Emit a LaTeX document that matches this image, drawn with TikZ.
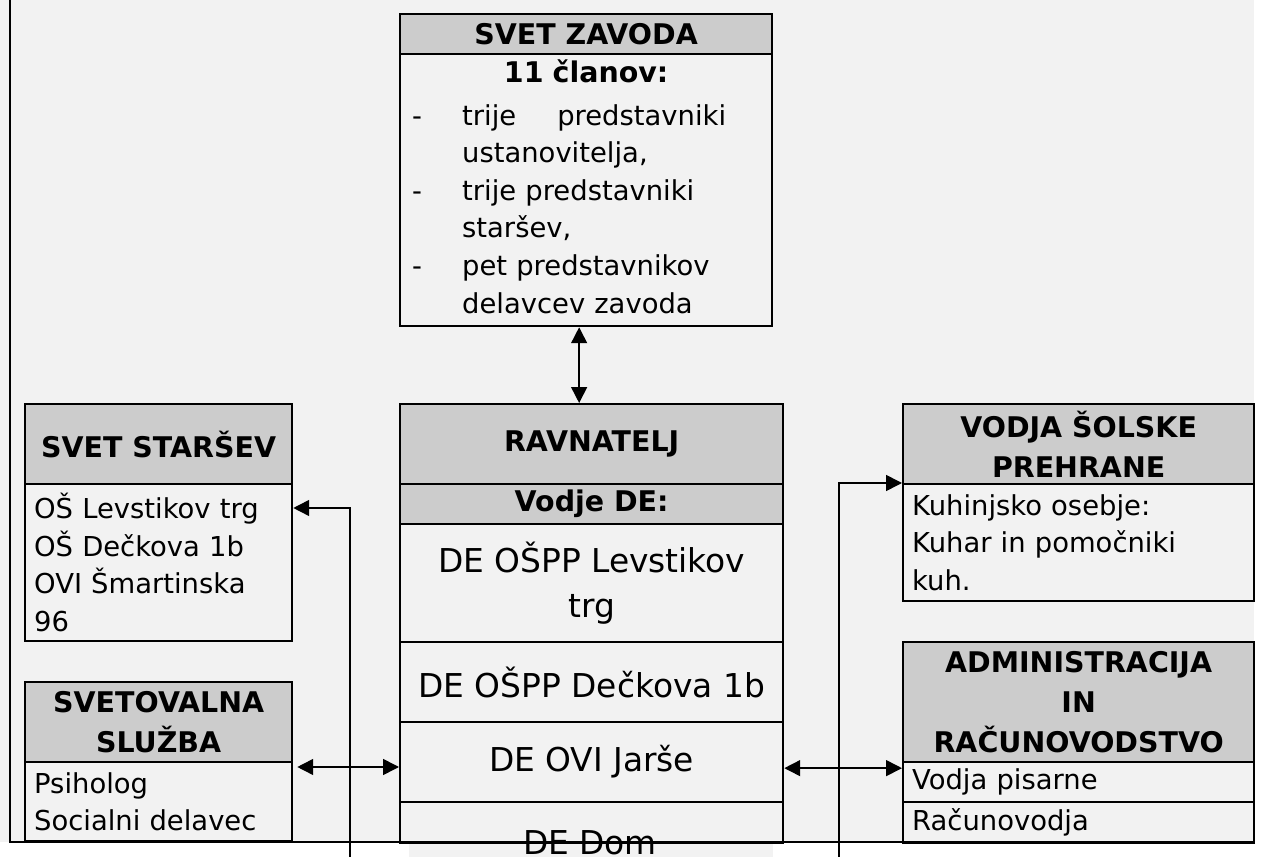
\documentclass[tikz,border=0pt]{standalone}
\usepackage{fontspec}
\setmainfont{DejaVu Sans}
\usetikzlibrary{arrows.meta,calc}

\definecolor{headgray}{RGB}{204,204,204}
\definecolor{bggray}{RGB}{242,242,242}

\newcommand{\boxheadfont}{\fontsize{16.2}{22.5}\selectfont\bfseries}
\newcommand{\boxbodyfont}{\fontsize{15.6}{21.4}\selectfont}
\newcommand{\deptfont}{\fontsize{18.7}{25.5}\selectfont}

\tikzset{
	boxcell/.style={draw, line width=1.3pt, fill=bggray, inner sep=0pt, anchor=north west},
	boxhead/.style={boxcell, fill=headgray, align=center, font=\boxheadfont},
	boxbody/.style={boxcell, align=left, inner xsep=0.18cm, font=\boxbodyfont},
	deptcell/.style={boxcell, align=center, font=\deptfont},
	sz/.style 2 args={minimum width=#1*0.02cm, minimum height=#2*0.02cm},
	connector/.style={line width=0.9pt},
}

\begin{document}
\begin{tikzpicture}[x=0.02cm, y=-0.02cm, >={Triangle[length=9pt,width=9pt]}]
	
	%Page and frame
	\useasboundingbox (0,0) rectangle (1262,857);
	\clip (0,0) rectangle (1262,857);
	\fill[bggray] (0,0) rectangle (1254,842);
	\fill[bggray] (409,842) rectangle (773,857);
	
	%Svet zavoda
	\node[boxhead, sz={372}{40}] (zavHead) at (399,13) {SVET ZAVODA};
	\node[boxcell, sz={372}{272}, font=\boxbodyfont, align=left, inner xsep=0.24cm, text width=6.96cm] (zavBody) at (399,53) {%
		\begin{tabular}{@{}p{1cm}@{}p{5.96cm}@{}}
			\multicolumn{2}{@{}c@{}}{\boxheadfont 11 članov:}\\[3pt]
			- & \makebox[5.28cm][s]{trije\hfill predstavniki}\\
			  & ustanovitelja,\\
			- & trije predstavniki\\
			  & staršev,\\
			- & pet predstavnikov\\
			  & delavcev zavoda
		\end{tabular}};
	
	%Ravnatelj and units
	\node[boxhead, sz={383}{80}] (ravHead) at (399,403) {RAVNATELJ};
	\node[boxhead, sz={383}{40}] (ravVodje) at (399,483) {Vodje DE:};
	\node[deptcell, sz={383}{118}] (deLev) at (399,523) {DE OŠPP Levstikov\\trg};
	\node[deptcell, sz={383}{80}] (deDec) at (399,641) {DE OŠPP Dečkova 1b};
	\node[deptcell, sz={383}{80}] (deJarse) at (399,721) {DE OVI Jarše};
	\node[boxcell, sz={383}{41}] (deDom) at (399,801) {};
	\node[font=\deptfont, anchor=base] (deDomText) at (590,855) {DE Dom};
	
	%Svet starsev, svetovalna sluzba
	\node[boxhead, sz={267}{80}] (starHead) at (24,403) {SVET STARŠEV};
	\node[boxbody, sz={267}{157}, text width=4.98cm] (starBody) at (24,483) {OŠ Levstikov trg\\OŠ Dečkova 1b\\OVI Šmartinska\\96};
	\node[boxhead, sz={267}{80}] (svetHead) at (24,681) {SVETOVALNA\\SLUŽBA};
	\node[boxbody, sz={267}{79}, text width=4.98cm] (svetBody) at (24,761) {Psiholog\\Socialni delavec};
	
	%Prehrana, administracija
	\node[boxhead, sz={351}{80}] (prehHead) at (902,403) {VODJA ŠOLSKE\\PREHRANE};
	\node[boxbody, sz={351}{117}, text width=6.66cm] (prehBody) at (902,483) {Kuhinjsko osebje:\\Kuhar in pomočniki\\kuh.};
	\node[boxhead, sz={351}{120}] (admHead) at (902,641) {ADMINISTRACIJA\\IN\\RAČUNOVODSTVO};
	\node[boxbody, sz={351}{40}, text width=6.66cm] (admPis) at (902,761) {Vodja pisarne};
	\node[boxbody, sz={351}{41}, text width=6.66cm] (admRac) at (902,801) {Računovodja};
	
	%Frame
	\draw[line width=1.7pt] (10,0) -- (10,842) -- (1254,842);
	
	%Connectors
	\coordinate (zavLink) at ($(zavBody.south)+(-7,0)$);
	\draw[connector,<->] (zavLink) -- (zavLink |- ravHead.north);
	\coordinate (lFoot) at (350,857);
	\coordinate (lTop) at ($(starBody.north east)+(0,25)$);
	\draw[connector,->] (lFoot) |- (lTop);
	\coordinate (lMid) at ($(svetBody.north east)+(4,6)$);
	\draw[connector,<->] (lMid) -- (lMid -| deJarse.west);
	\coordinate (rFoot) at (839,857);
	\draw[connector,->] (rFoot) |- (prehBody.north west);
	\coordinate (rMid) at ($(deJarse.east)+(0,6)$);
	\draw[connector,<->] (rMid) -- (rMid -| admPis.west);
\end{tikzpicture}
\end{document}
